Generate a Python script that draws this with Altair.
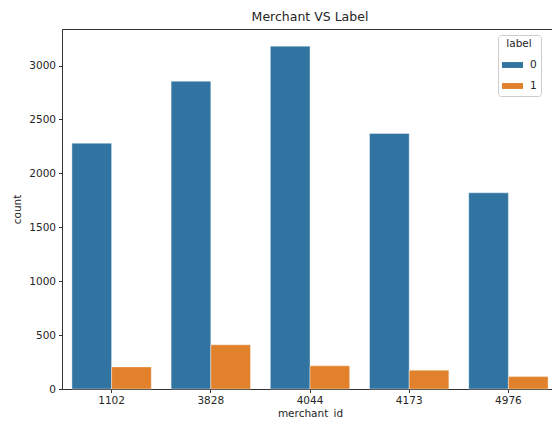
import altair as alt
import pandas as pd

merchant_ids = ["1102", "3828", "4044", "4173", "4976"]
count_label0 = [2280, 2855, 3180, 2370, 1820]
count_label1 = [205, 410, 215, 175, 115]
labels = ["0", "1"]
colors = ["#3274a1", "#e1812c"]

rows = []
for m, c0, c1 in zip(merchant_ids, count_label0, count_label1):
    rows.append({"merchant_id": m, "label": "0", "count": c0})
    rows.append({"merchant_id": m, "label": "1", "count": c1})
df = pd.DataFrame(rows)

FONT = "DejaVu Sans"
TXT = "#262626"

chart = alt.Chart(df).mark_bar(stroke="white", strokeWidth=0.4).encode(
    x=alt.X("merchant_id:N", sort=merchant_ids,
            scale=alt.Scale(paddingInner=0.2, paddingOuter=0.1),
            axis=alt.Axis(title="merchant_id", labelAngle=0, grid=False,
                          tickSize=3.5, labelPadding=3, titlePadding=2)),
    xOffset=alt.XOffset("label:N", sort=labels,
                        scale=alt.Scale(paddingInner=0, paddingOuter=0)),
    y=alt.Y("count:Q", scale=alt.Scale(domain=[0, 3339], nice=False, zero=True),
            axis=alt.Axis(title="count", values=[0, 500, 1000, 1500, 2000, 2500, 3000],
                          format="d", grid=False, tickSize=3.5, labelPadding=3,
                          titlePadding=6)),
    color=alt.Color("label:N", sort=labels,
                    scale=alt.Scale(domain=labels, range=colors),
                    legend=alt.Legend(title="label", orient="none", legendX=436, legendY=6,
                                      fillColor="white", strokeColor="#cccccc",
                                      cornerRadius=3, padding=4,
                                      titleAnchor="middle", titleAlign="center",
                                      titleFontWeight="normal", titleFontSize=10.5,
                                      titleColor=TXT, titleFont=FONT, titlePadding=5,
                                      labelFont=FONT, labelFontSize=10.5, labelColor=TXT,
                                      labelOffset=7,
                                      symbolType="M-1,-0.28H1V0.28H-1Z", symbolSize=440,
                                      symbolStrokeWidth=0, rowPadding=5)),
).properties(
    width=496,
    height=360,
    title=alt.Title("Merchant VS Label", fontSize=12.5, fontWeight="normal",
                    font=FONT, color=TXT, anchor="middle", offset=6),
    autosize=alt.AutoSizeParams(type="none"),
    padding={"left": 54, "top": 21, "right": -6, "bottom": 30},
).configure_view(
    stroke="#333333", strokeWidth=1
).configure_axis(
    labelFont=FONT, titleFont=FONT, labelFontSize=10.5, titleFontSize=10.5,
    labelColor=TXT, titleColor=TXT, titleFontWeight="normal",
    domainColor="#333333", tickColor="#333333", domainWidth=1, tickWidth=1
)

chart.save("out.html", embed_options={"renderer": "svg", "actions": False})
